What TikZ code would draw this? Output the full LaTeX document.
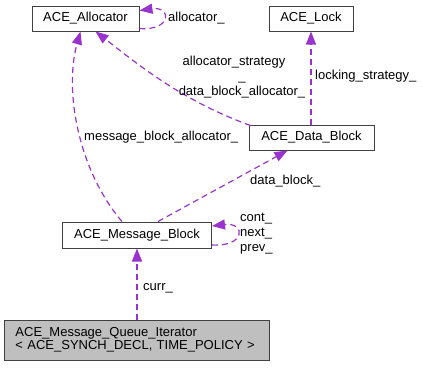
\documentclass[tikz,border=0pt]{standalone}
\usepackage{fontspec}
\setmainfont{Liberation Sans}
\usetikzlibrary{arrows.meta}
\definecolor{edgecol}{HTML}{9A32CD}
\definecolor{itfill}{HTML}{BFBFBF}
\begin{document}
\begin{tikzpicture}[x=1pt,y=-1pt,
  box/.style={draw=black!75,line width=1pt,inner sep=0pt,font=\fontsize{13}{15}\selectfont},
  lbl/.style={inner sep=0pt,font=\fontsize{13}{15}\selectfont,align=left},
  rel/.style={draw=edgecol,line width=1.2pt,dash pattern=on 6pt off 4pt,-{Triangle[length=13pt,width=10pt]}}]
\useasboundingbox (0,0) rectangle (423,367);
\node[box,minimum width=107pt,minimum height=25pt] (alloc) at (85.5,18.5) {ACE\_Allocator};
\node[box,minimum width=84pt,minimum height=25pt] (lock) at (311,18.5) {ACE\_Lock};
\node[box,minimum width=125pt,minimum height=25pt] (data) at (311.5,137.5) {ACE\_Data\_Block};
\node[box,minimum width=149pt,minimum height=26pt] (msg) at (137,235) {ACE\_Message\_Block};
\node[box,fill=itfill,minimum width=265pt,minimum height=40pt,align=left,text width=243pt] (iter) at (137,340) {ACE\_Message\_Queue\_Iterator\\[-2pt]< ACE\_SYNCH\_DECL, TIME\_POLICY >};

% allocator self loop
\draw[rel] ([yshift=-10]alloc.east) .. controls (172,31) and (172,6) .. ([yshift=8]alloc.east);
\node[lbl,anchor=west] (lalloc) at (168,18) {allocator\_};

% data block -> allocator
\draw[rel] ([xshift=2,yshift=-1]data.north west) .. controls (180,100) and (135,62) .. ([xshift=10]alloc.south);
\node[lbl,align=center] (lstrat) at (242,77) {allocator\_strategy\hspace*{16pt}\\\_\\data\_block\_allocator\_};

% data block -> lock
\draw[rel] (lock.south |- data.north) -- (lock.south);
\node[lbl,anchor=west] (llock) at (315,76) {locking\_strategy\_};

% message block -> allocator
\draw[rel] ([xshift=-15]msg.north) .. controls (78,170) and (64,90) .. ([xshift=-5]alloc.south);
\node[lbl,anchor=west] (lmba) at (84,137) {message\_block\_allocator\_};

% message block -> data block
\draw[rel] ([xshift=21]msg.north) -- ([xshift=-24]data.south);
\node[lbl,anchor=west] (ldb) at (250,181) {data\_block\_};

% message block self loop
\draw[rel] ([yshift=-10]msg.east) .. controls (246,247) and (246,222) .. ([yshift=9]msg.east);
\node[lbl,align=left,anchor=west] (lmsg) at (240,234) {cont\_\\next\_\\prev\_};

% iterator -> message block
\draw[rel] (iter.north) -- (msg.south);
\node[lbl,anchor=west] (lcurr) at (143,288) {curr\_};
\end{tikzpicture}
\end{document}
